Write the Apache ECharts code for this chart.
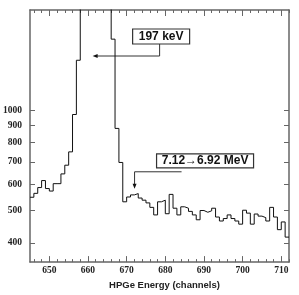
<!DOCTYPE html>
<html><head><meta charset="utf-8">
<script src="https://cdn.jsdelivr.net/npm/echarts@6/dist/echarts.min.js"></script>
<style>html,body{margin:0;padding:0;background:#fff}#c{width:299px;height:295px}</style>
</head><body><div id="c"></div>
<script>
const channels = [645,646,647,648,649,650,651,652,653,654,655,656,657,658,659,660,661,662,663,664,665,666,667,668,669,670,671,672,673,674,675,676,677,678,679,680,681,682,683,684,685,686,687,688,689,690,691,692,693,694,695,696,697,698,699,700,701,702,703,704,705,706,707,708,709,710,711];
const counts = [548,563,586,615,582,572,602,602,644,684,750,971,1413,2600,4800,8200,11500,10800,7400,4300,2600,1635,882,697,531,549,557,562,545,537,527,511,485,531,537,489,559,508,485,513,508,497,485,469,500,494,499,508,478,465,473,485,473,465,455,501,491,455,488,481,476,465,511,478,438,462,416];
const xMajorTicks = [650,660,670,680,690,700,710];
const xMinorTicks = [646,648,652,654,656,658,662,664,666,668,672,674,676,678,682,684,686,688,692,694,696,698,702,704,706,708,712];
const yTicks = [400,500,600,700,800,900,1000];
const annotationLabels = ['197 keV', '7.12\u21926.92 MeV'];
const annotationChannels = [661.2, 672.05];
const annotationCounts = [1455, 581];

const chart = echarts.init(document.getElementById('c'), null, {renderer: 'canvas'});
const frame = {show: true, lineStyle: {color: '#666', width: 1.5}};
const labelFont = {fontFamily: 'Liberation Serif', fontWeight: 'bold', fontSize: 9.5, color: '#222', formatter: v => String(Math.round(v))};
function xAx(pos, ticks, len, labels, line) {
  return {
    type: 'value', position: pos, min: 645, max: 712,
    axisLine: line ? frame : {show: false},
    axisTick: {show: true, inside: true, length: len, customValues: ticks, lineStyle: {color: '#666', width: 1}},
    axisLabel: labels ? Object.assign({show: true, margin: 3, customValues: ticks}, labelFont) : {show: false},
    splitLine: {show: false}
  };
}
const xAxes = [
  xAx('bottom', xMajorTicks, 6, true, true),
  xAx('bottom', xMinorTicks, 3, false, false),
  xAx('top', xMajorTicks, 6, false, true),
  xAx('top', xMinorTicks, 3, false, false)
];
xAxes[0].name = 'HPGe Energy (channels)';
xAxes[0].nameLocation = 'middle';
xAxes[0].nameGap = 16;
xAxes[0].nameTextStyle = {fontFamily: 'Liberation Sans', fontWeight: 'bold', fontSize: 9.5, color: '#222', padding: [0, 0, 0, 10]};
function yAx(pos, labels) {
  return {
    type: 'log', logBase: 10, position: pos, min: 350, max: 2000,
    axisLine: frame,
    axisTick: {show: true, inside: true, length: 5, customValues: yTicks, lineStyle: {color: '#666', width: 1}},
    axisLabel: labels ? Object.assign({show: true, margin: 8, customValues: yTicks}, labelFont) : {show: false},
    splitLine: {show: false},
    minorTick: {show: false}
  };
}
const seriesData = channels.map((c, i) => [c, counts[i]]);
seriesData.push([channels[channels.length - 1] + 1, counts[counts.length - 1]]);

chart.setOption({
  animation: false,
  backgroundColor: '#fff',
  grid: {left: 30, right: 10, top: 10, bottom: 27},
  xAxis: xAxes,
  yAxis: [yAx('left', true), yAx('right', false)],
  series: [{
    type: 'line', step: 'end', xAxisIndex: 0, yAxisIndex: 0,
    data: seriesData, symbol: 'none', clip: true,
    lineStyle: {color: '#111', width: 1}
  }]
});

const p1 = chart.convertToPixel({seriesIndex: 0}, [annotationChannels[0], annotationCounts[0]]);
const p2 = chart.convertToPixel({seriesIndex: 0}, [annotationChannels[1], annotationCounts[1]]);
const boxText = {fontFamily: 'Liberation Sans', fontWeight: 'bold', fontSize: 12, fill: '#111'};
const ls = {stroke: '#333', lineWidth: 1, fill: null};
chart.setOption({
  graphic: [
    {type: 'rect', shape: {x: p1[0] + 40, y: p1[1] - 27, width: 57, height: 15}, style: {fill: '#fff', stroke: '#333', lineWidth: 1.2}},
    {type: 'text', x: p1[0] + 68.5, y: p1[1] - 19.5, style: Object.assign({text: annotationLabels[0], align: 'center', verticalAlign: 'middle'}, boxText)},
    {type: 'polyline', shape: {points: [[p1[0] + 67, p1[1] - 12], [p1[0] + 67, p1[1]], [p1[0] + 4, p1[1]]]}, style: ls},
    {type: 'polygon', shape: {points: [[p1[0], p1[1]], [p1[0] + 5, p1[1] - 2], [p1[0] + 5, p1[1] + 2]]}, style: {fill: '#111'}},
    {type: 'rect', shape: {x: p2[0] + 22, y: p2[1] - 35, width: 97, height: 14}, style: {fill: '#fff', stroke: '#333', lineWidth: 1.2}},
    {type: 'text', x: p2[0] + 70.5, y: p2[1] - 28, style: Object.assign({text: annotationLabels[1], align: 'center', verticalAlign: 'middle'}, boxText)},
    {type: 'polyline', shape: {points: [[p2[0] + 47, p2[1] - 17], [p2[0], p2[1] - 17], [p2[0], p2[1] - 4]]}, style: ls},
    {type: 'polygon', shape: {points: [[p2[0], p2[1]], [p2[0] - 2, p2[1] - 5], [p2[0] + 2, p2[1] - 5]]}, style: {fill: '#111'}}
  ]
});
</script></body></html>
